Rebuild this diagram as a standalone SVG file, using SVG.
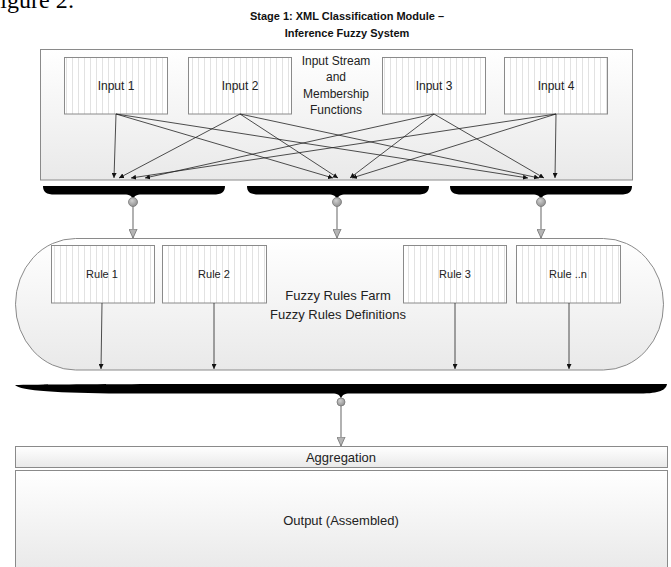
<svg xmlns="http://www.w3.org/2000/svg" width="671" height="567" viewBox="0 0 671 567">
<style>
  text { font-family: "Liberation Sans", Arial, sans-serif; fill: #222; }
  .title { font-weight: bold; font-size: 11px; text-anchor: middle; fill: #111; }
  .lbl { font-size: 12px; text-anchor: middle; dominant-baseline: central; }
  .rlbl { font-size: 11px; text-anchor: middle; dominant-baseline: central; }
  .big { font-size: 13px; text-anchor: middle; dominant-baseline: central; }
  .box { fill: url(#stripes); stroke: #8a8a8a; stroke-width: 1; }
  .wire { stroke: #222; stroke-width: 0.8; fill: none; marker-end: url(#ah); }
  .gwire { stroke: #888; stroke-width: 1.3; fill: none; marker-end: url(#gah); }
  .brace { fill: #000; }
  .knob { fill: url(#knobg); stroke: #777; stroke-width: 0.8; }
</style>
<defs>
  <pattern id="stripes" patternUnits="userSpaceOnUse" width="6" height="10">
    <rect width="6" height="10" fill="#fff"/>
    <line x1="0.5" y1="0" x2="0.5" y2="10" stroke="#e2e2e2" stroke-width="1"/>
  </pattern>
  <linearGradient id="panel" x1="0" y1="0" x2="0" y2="1">
    <stop offset="0" stop-color="#ffffff"/>
    <stop offset="1" stop-color="#e9e9e9"/>
  </linearGradient>
  <radialGradient id="knobg" cx="0.4" cy="0.35" r="0.7">
    <stop offset="0" stop-color="#d0d0d0"/>
    <stop offset="1" stop-color="#8c8c8c"/>
  </radialGradient>
  <marker id="ah" viewBox="0 0 6 6" refX="6" refY="3" markerWidth="5" markerHeight="5" markerUnits="userSpaceOnUse" orient="auto">
    <path d="M0,0 L6,3 L0,6 Z" fill="#111"/>
  </marker>
  <marker id="gah" viewBox="0 0 10 10" refX="10" refY="5" markerWidth="9" markerHeight="9" markerUnits="userSpaceOnUse" orient="auto">
    <path d="M0,0.5 L10,5 L0,9.5 Z" fill="#b5b5b5" stroke="#7a7a7a" stroke-width="1"/>
  </marker>
</defs>

<rect width="671" height="567" fill="#fff"/>

<text x="-13" y="8" style="font-family:'Liberation Serif',serif;font-size:24px;fill:#000">Figure 2:</text>

<g id="title">
  <text class="title" x="347" y="20">Stage 1: XML Classification Module –</text>
  <text class="title" x="347" y="37">Inference Fuzzy System</text>
</g>

<g id="input-panel">
  <rect x="40.5" y="49.5" width="592" height="130.5" fill="url(#panel)" stroke="#8a8a8a"/>
  <text class="lbl" x="336" y="61">Input Stream</text>
  <text class="lbl" x="336" y="77">and</text>
  <text class="lbl" x="336" y="93.5">Membership</text>
  <text class="lbl" x="336" y="110">Functions</text>
</g>
<g id="input1"><rect class="box" x="64.5" y="57.5" width="103" height="56.5"/><text class="lbl" x="116" y="86">Input 1</text></g>
<g id="input2"><rect class="box" x="188.5" y="57.5" width="103" height="56.5"/><text class="lbl" x="240" y="86">Input 2</text></g>
<g id="input3"><rect class="box" x="382.5" y="57.5" width="103" height="56.5"/><text class="lbl" x="434" y="86">Input 3</text></g>
<g id="input4"><rect class="box" x="504.5" y="57.5" width="103" height="56.5"/><text class="lbl" x="556" y="86">Input 4</text></g>

<g id="brace1"><path class="brace" d="M43,186 H225 C225,192 222,194.5 213,194.5 H142 C136,194.5 134,196 133,200 C132,196 130,194.5 124,194.5 H55 C46,194.5 43,192 43,186 Z"/></g>
<g id="brace2"><path class="brace" d="M247,186 H429 C429,192 426,194.5 417,194.5 H346 C340,194.5 338,196 337,200 C336,196 334,194.5 328,194.5 H259 C250,194.5 247,192 247,186 Z"/></g>
<g id="brace3"><path class="brace" d="M450,186 H632 C632,192 629,194.5 620,194.5 H550 C544,194.5 542,196 541,200 C540,196 538,194.5 532,194.5 H462 C453,194.5 450,192 450,186 Z"/></g>

<g id="rules-farm">
  <rect x="15.5" y="238.5" width="648" height="131.5" rx="60" ry="65.75" fill="url(#panel)" stroke="#8a8a8a"/>
  <text class="big" x="338" y="295">Fuzzy Rules Farm</text>
  <text class="big" x="338" y="314">Fuzzy Rules Definitions</text>
</g>
<g id="rule1"><rect class="box" x="51.5" y="245.5" width="103" height="57.5"/><text class="rlbl" x="102" y="274">Rule 1</text></g>
<g id="rule2"><rect class="box" x="162.5" y="245.5" width="104" height="57.5"/><text class="rlbl" x="214" y="274">Rule 2</text></g>
<g id="rule3"><rect class="box" x="403.5" y="245.5" width="103" height="57.5"/><text class="rlbl" x="455" y="274">Rule 3</text></g>
<g id="rulen"><rect class="box" x="516.5" y="245.5" width="104" height="57.5"/><text class="rlbl" x="568" y="274">Rule ..n</text></g>

<g id="brace-main"><path class="brace" d="M15,385 C60,384 200,384 300,384 H667 C666,390 660,393.5 640,393.5 H350 C344,393.5 342,395 341,399 C340,395 338,393.5 332,393.5 H120 C60,393 20,391 15,385 Z"/></g>

<g id="aggregation"><rect x="15.5" y="446.5" width="652" height="21" fill="url(#panel)" stroke="#8a8a8a"/><text class="big" x="341" y="457">Aggregation</text></g>
<g id="output"><rect x="15.5" y="470.5" width="652" height="100" fill="url(#panel)" stroke="#8a8a8a"/><text class="big" x="341" y="520">Output (Assembled)</text></g>

<g id="connectors">
  <line class="wire" x1="116" y1="114" x2="114" y2="178"/>
  <line class="wire" x1="116" y1="114" x2="333" y2="178"/>
  <line class="wire" x1="116" y1="114" x2="528" y2="178"/>
  <line class="wire" x1="240" y1="114" x2="119" y2="178"/>
  <line class="wire" x1="240" y1="114" x2="338" y2="178"/>
  <line class="wire" x1="240" y1="114" x2="539" y2="178"/>
  <line class="wire" x1="434" y1="114" x2="145" y2="178"/>
  <line class="wire" x1="434" y1="114" x2="350" y2="178"/>
  <line class="wire" x1="434" y1="114" x2="544" y2="178"/>
  <line class="wire" x1="556" y1="114" x2="131" y2="178"/>
  <line class="wire" x1="556" y1="114" x2="352" y2="178"/>
  <line class="wire" x1="556" y1="114" x2="555" y2="178"/>

  <line class="gwire" x1="133" y1="202" x2="133" y2="238"/>
  <line class="gwire" x1="337" y1="202" x2="337" y2="238"/>
  <line class="gwire" x1="541" y1="202" x2="541" y2="238"/>
  <circle class="knob" cx="133" cy="202" r="4.5"/>
  <circle class="knob" cx="337" cy="202" r="4.5"/>
  <circle class="knob" cx="541" cy="202" r="4.5"/>

  <line class="wire" x1="102" y1="303" x2="101" y2="369"/>
  <line class="wire" x1="214" y1="303" x2="214" y2="369"/>
  <line class="wire" x1="455" y1="303" x2="455" y2="369"/>
  <line class="wire" x1="569" y1="303" x2="569" y2="369"/>

  <line class="gwire" x1="341" y1="402" x2="341" y2="446"/>
  <circle class="knob" cx="341" cy="402" r="4"/>
</g>
</svg>
